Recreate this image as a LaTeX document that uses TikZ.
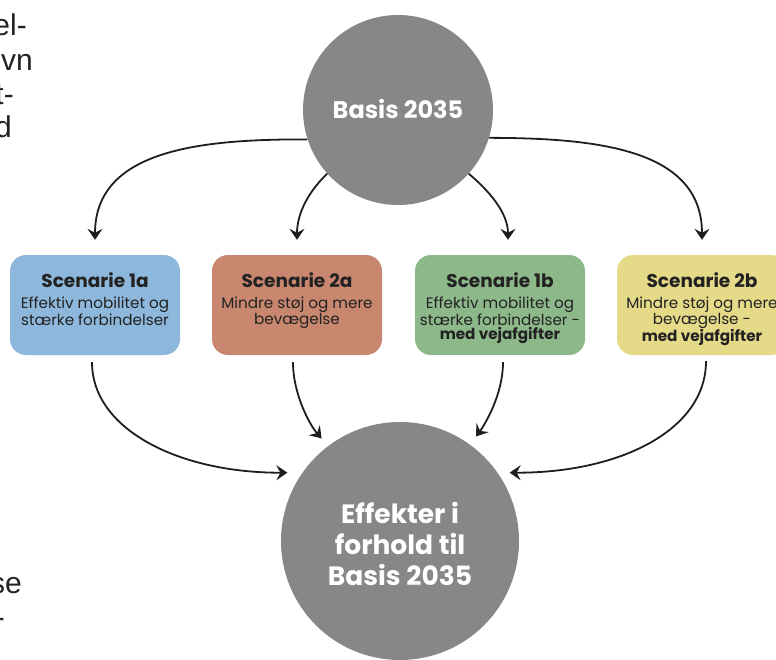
\documentclass[tikz,border=0pt]{standalone}
\usepackage{fontspec}
\setmainfont{Poppins}
\newfontfamily\fragfont{Liberation Sans}
\usetikzlibrary{arrows.meta}
\definecolor{cgray}{HTML}{878787}
\definecolor{cblue}{HTML}{8DB8DB}
\definecolor{csalmon}{HTML}{C8876E}
\definecolor{cgreen}{HTML}{8DB88A}
\definecolor{cyellow}{HTML}{E5DA88}
\definecolor{ctext}{HTML}{222222}
\definecolor{carrow}{HTML}{1E1E1E}
\begin{document}
\begin{tikzpicture}[x=1pt,y=-1pt,
  bigcircle/.style={circle, fill=cgray, inner sep=0pt},
  scenbox/.style={rectangle, rounded corners=16pt, minimum width=170pt, minimum height=100pt, inner sep=0pt},
  titletext/.style={font=\fontsize{18.5}{20}\selectfont\bfseries, text=ctext, anchor=base, inner sep=0pt},
  subtext/.style={font=\fontsize{15.2}{14.8}\selectfont, text=ctext, align=center, anchor=north, inner sep=0pt},
  circtext/.style={text=white, align=center, inner sep=0pt},
  arr/.style={draw=carrow, line width=1.8pt, -{Stealth[length=11pt,width=15pt,inset=4pt]}},
  frag/.style={font=\fragfont\fontsize{30}{34}\selectfont, text=ctext, anchor=base east, inner sep=0pt}
]
\clip (0,0) rectangle (776,659);

% fragments of neighbouring text
\node[frag] (f1) at (27,35) {el-};
\node[frag] (f2) at (33,70) {vn};
\node[frag] (f3) at (14,104) {t-};
\node[frag] (f4) at (12,137) {d};
\node[frag] (f5) at (22,593) {se};
\node[frag] (f6) at (5,627) {-};

% boxes
\node[scenbox, fill=cblue] (b1a) at (95,305) {};
\node[scenbox, fill=csalmon] (b2a) at (297,305) {};
\node[scenbox, fill=cgreen] (b1b) at (500,305) {};
\node[scenbox, fill=cyellow] (b2b) at (702,305) {};

\node[titletext] (t1a) at (95,287) {Scenarie 1a};
\node[titletext] (t2a) at (297,287) {Scenarie 2a};
\node[titletext] (t1b) at (500,287) {Scenarie 1b};
\node[titletext] (t2b) at (702,287) {Scenarie 2b};

\node[subtext] (s1a) at (95,296.5) {Effektiv mobilitet og\\stærke forbindelser};
\node[subtext] (s2a) at (297,296.5) {Mindre støj og mere\\bevægelse};
\node[subtext] (s1b) at (500,296.5) {Effektiv mobilitet og\\stærke forbindelser -\\\textbf{med vejafgifter}};
\node[subtext] (s2b) at (702,296.5) {Mindre støj og mere\\bevægelse -\\\textbf{med vejafgifter}};

% circles
\node[bigcircle, minimum size=190pt] (basis) at (398,110) {};
\node[circtext, font=\fontsize{24}{28}\selectfont\bfseries, anchor=base] (basistxt) at (398,118) {Basis 2035};

\node[bigcircle, minimum size=238pt] (eff) at (400,541) {};
\node[circtext, font=\fontsize{26.5}{31}\selectfont\bfseries] (efftxt) at (400,543.5) {Effekter i\\forhold til\\Basis 2035};

% arrows from Basis
\draw[arr] (basis.198) .. controls (200,139) and (95,150) .. ([yshift=15pt]b1a.north);
\draw[arr] (basis.222) .. controls (310,190) and (297,212) .. ([yshift=15pt]b2a.north);
\draw[arr] (basis.318) .. controls (488,190) and (508,212) .. ([xshift=8pt,yshift=15pt]b1b.north);
\draw[arr] (basis.343) .. controls (600,138) and (702,150) .. ([yshift=15pt]b2b.north);

% arrows to Effekter
\draw[arr, shorten >=15pt] ([xshift=-3pt,yshift=-7pt]b1a.south) .. controls (92,430) and (180,473) .. (eff.145);
\draw[arr, shorten >=10pt] ([xshift=-4pt,yshift=-7pt]b2a.south) .. controls (293,395) and (310.5,426) .. (eff.127.7);
\draw[arr, shorten >=10pt] ([xshift=3pt,yshift=-7pt]b1b.south) .. controls (503,395) and (484.5,425) .. (eff.54.5);
\draw[arr, shorten >=12pt] ([xshift=4pt,yshift=-6pt]b2b.south) .. controls (706,430) and (620,473) .. (eff.35);
\end{tikzpicture}
\end{document}
